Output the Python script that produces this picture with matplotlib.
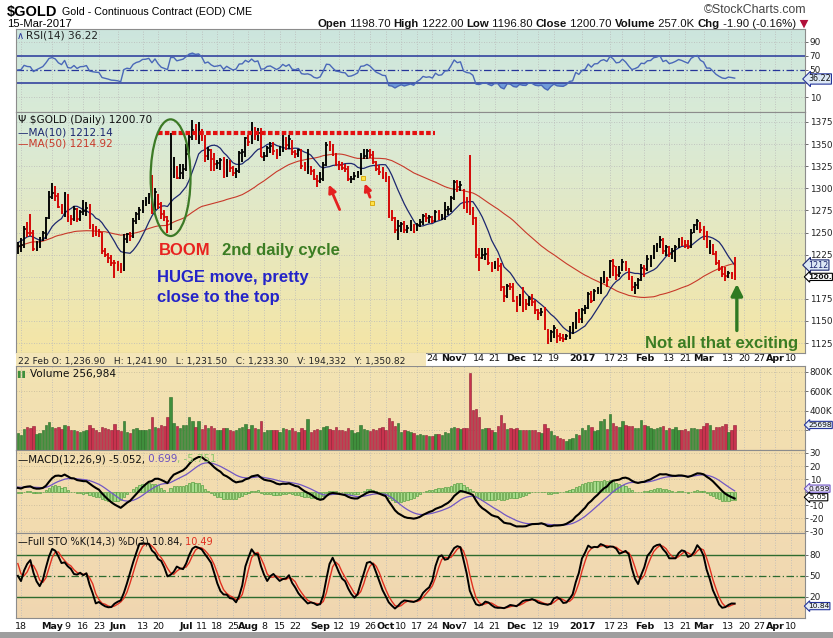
import numpy as np
import pandas as pd
import matplotlib
matplotlib.use("Agg")
import matplotlib.pyplot as plt
from matplotlib.patches import Ellipse, Rectangle
from matplotlib import font_manager

# ------------------------------------------------------------------ data
holidays = ['2016-05-30', '2016-07-04', '2016-09-05', '2016-11-24',
            '2016-12-26', '2017-01-02', '2017-01-16', '2017-02-20']
start_date, last_date, axis_end = '2016-04-15', '2017-03-15', '2017-04-13'

# closes before the visible window (needed for MA50 / RSI / MACD / STO warm-up)
warm_close = [1106, 1098, 1097, 1107, 1121, 1126, 1115, 1118,
              1128, 1128, 1141, 1157, 1158, 1198, 1196, 1194, 1247, 1239, 1208, 1210,
              1226, 1230, 1210, 1222, 1239, 1239, 1221, 1234,
              1230, 1241, 1263, 1270, 1263, 1262, 1257, 1271, 1259, 1245, 1232,
              1264, 1257, 1254, 1245, 1249, 1224, 1221, 1219, 1237, 1226, 1234,
              1222, 1218, 1230, 1226, 1240, 1243, 1257, 1261, 1247, 1228]
warm_high = [1268, 1260, 1256, 1251, 1248, 1226, 1225, 1240, 1241, 1239,
             1236, 1224, 1233, 1236, 1244, 1250, 1260, 1264, 1262, 1249]
warm_low = [1248, 1250, 1243, 1240, 1222, 1212, 1208, 1216, 1222, 1225,
            1220, 1211, 1216, 1219, 1224, 1232, 1240, 1252, 1240, 1225]

close = [
    1235, 1236, 1254, 1250, 1249, 1231, 1238, 1244, 1250, 1266, 1290,
    1295, 1291, 1279, 1273, 1294, 1267, 1265, 1277, 1265, 1273, 1274, 1278, 1257, 1254, 1252,
    1251, 1229, 1225, 1221, 1216, 1215,
    1213, 1209, 1243, 1248, 1246, 1263, 1271, 1275, 1285, 1286, 1290, 1279, 1296, 1282, 1271,
    1267, 1263, 1322, 1324, 1312, 1317, 1322,
    1339, 1358, 1366, 1362, 1366, 1357, 1337, 1343, 1333, 1327, 1329, 1332, 1318, 1330, 1323,
    1317, 1320, 1340, 1341, 1357,
    1352, 1367, 1359, 1363, 1335, 1336, 1346, 1348, 1342, 1336, 1342, 1355, 1349, 1356, 1341,
    1339, 1343, 1325, 1323, 1324, 1320, 1311, 1308,
    1311, 1326, 1349, 1348, 1338, 1328, 1326, 1323, 1322, 1310, 1311, 1314, 1318, 1336, 1337,
    1342, 1338, 1330, 1322, 1318, 1313,
    1312, 1269, 1266, 1253, 1257, 1260, 1253, 1255, 1257, 1251, 1258, 1262, 1269, 1266, 1267,
    1263, 1273, 1267, 1268, 1276, 1277,
    1289, 1307, 1301, 1304, 1280, 1275, 1273.5, 1266, 1224, 1221, 1224, 1226, 1216, 1208, 1213,
    1212, 1188, 1178, 1190, 1188, 1173,
    1169, 1175, 1170, 1169, 1175, 1171, 1162, 1159, 1160, 1142, 1130, 1137, 1142, 1133, 1131,
    1130, 1133, 1139, 1140, 1158, 1152,
    1162, 1165, 1181, 1173, 1184, 1185, 1196, 1200, 1196, 1218, 1212, 1202, 1204, 1217, 1210,
    1199, 1188, 1191, 1196, 1210,
    1209, 1220, 1221, 1233, 1236, 1242, 1229, 1234, 1226, 1229, 1234, 1241, 1239, 1236, 1233.3,
    1250, 1258, 1263, 1253,
    1249, 1234, 1234, 1226, 1216, 1209, 1203, 1201, 1204, 1202.6, 1200.7]
high = [
    1239, 1244, 1257, 1262, 1271, 1253, 1240, 1245, 1252, 1268, 1297,
    1306, 1303, 1295, 1282, 1296, 1294, 1270, 1280, 1278, 1276, 1287, 1285, 1282, 1260, 1257,
    1254, 1251, 1232, 1227, 1225, 1219,
    1218, 1215, 1248, 1250, 1251, 1266, 1273, 1279, 1287, 1290, 1295, 1315, 1300, 1294, 1285,
    1275, 1269, 1362, 1335, 1325, 1327, 1328,
    1350, 1360, 1377, 1373, 1375, 1367, 1360, 1347, 1345, 1340, 1332, 1334, 1335, 1333, 1332,
    1325, 1323, 1342, 1345, 1358,
    1360, 1375, 1369, 1368, 1368, 1341, 1348, 1352, 1352, 1345, 1348, 1360, 1358, 1360, 1355,
    1343, 1345, 1345, 1330, 1345, 1325, 1322, 1315,
    1318, 1330, 1352, 1353, 1350, 1340, 1331, 1330, 1327, 1325, 1314, 1318, 1320, 1340, 1344,
    1345, 1345, 1342, 1331, 1326, 1324,
    1318, 1314, 1276, 1268, 1264, 1262, 1263, 1259, 1264, 1260, 1261, 1265, 1271, 1272, 1270,
    1269, 1275, 1276, 1271, 1285, 1280,
    1291, 1309, 1309, 1308, 1299, 1290, 1338, 1279, 1268, 1232, 1232, 1233, 1232, 1217, 1218,
    1221, 1215, 1190, 1192, 1193, 1193,
    1178, 1180, 1188, 1175, 1178, 1180, 1174, 1164, 1165, 1166, 1141, 1140, 1145, 1141, 1136,
    1135, 1135, 1144, 1149, 1160, 1163,
    1165, 1168, 1183, 1184, 1186, 1188, 1200, 1207, 1200, 1219, 1220, 1212, 1212, 1220, 1218,
    1210, 1201, 1194, 1198, 1214,
    1213, 1225, 1224, 1236, 1238, 1246, 1244, 1236, 1235, 1232, 1236, 1244, 1245, 1242, 1241.9,
    1254, 1260, 1265, 1262,
    1257, 1252, 1241, 1237, 1229, 1219, 1212, 1211, 1206, 1205, 1222]
low = [
    1226, 1228, 1232, 1245, 1246, 1229, 1229, 1233, 1240, 1243, 1265,
    1288, 1286, 1278, 1271, 1268, 1262, 1259, 1263, 1262, 1263, 1270, 1269, 1254, 1245, 1246,
    1245, 1226, 1222, 1215, 1212, 1199,
    1206, 1204, 1207, 1238, 1240, 1244, 1260, 1264, 1272, 1280, 1282, 1271, 1276, 1277, 1265,
    1263, 1250, 1253, 1312, 1310, 1311, 1311,
    1320, 1339, 1355, 1355, 1350, 1353, 1330, 1332, 1320, 1320, 1322, 1321, 1312, 1313, 1318,
    1314, 1312, 1317, 1330, 1335,
    1348, 1350, 1355, 1354, 1335, 1331, 1335, 1340, 1338, 1333, 1336, 1341, 1343, 1345, 1338,
    1334, 1335, 1322, 1320, 1316, 1315, 1309, 1302,
    1306, 1308, 1325, 1342, 1336, 1325, 1321, 1321, 1318, 1308, 1306, 1309, 1312, 1315, 1333,
    1333, 1334, 1328, 1320, 1315, 1311,
    1307, 1266, 1263, 1250, 1241, 1251, 1250, 1250, 1252, 1249, 1252, 1256, 1259, 1262, 1261,
    1261, 1262, 1264, 1264, 1264, 1270,
    1273, 1287, 1296, 1297, 1277, 1272, 1270, 1258, 1221, 1206, 1220, 1219, 1213, 1205, 1209,
    1207, 1184, 1171, 1176, 1185, 1171,
    1160, 1167, 1160, 1162, 1167, 1167, 1158, 1151, 1155, 1140, 1124, 1126, 1131, 1125, 1127,
    1126, 1128, 1130, 1135, 1141, 1148,
    1148, 1158, 1163, 1170, 1172, 1180, 1180, 1193, 1188, 1198, 1201, 1196, 1200, 1206, 1207,
    1196, 1184, 1180, 1186, 1195,
    1200, 1207, 1211, 1220, 1228, 1232, 1226, 1223, 1222, 1220, 1217, 1232, 1235, 1233, 1231.5,
    1233, 1249, 1253, 1250,
    1242, 1232, 1226, 1224, 1213, 1207, 1200, 1195, 1199, 1197, 1196.8]
volume_k = [
    170, 150, 220, 240, 230, 250, 160, 170, 200, 260, 290,
    240, 230, 240, 220, 260, 250, 210, 200, 190, 180, 190, 210, 260, 230, 200,
    180, 240, 230, 220, 210, 270,
    200, 190, 300, 180, 170, 220, 230, 200, 210, 200, 220, 340, 240, 230, 260,
    250, 340, 540, 280, 250, 230, 260,
    260, 340, 300, 240, 300, 220, 260, 230, 250, 230, 200, 210, 230, 230, 200,
    190, 200, 230, 240, 270,
    220, 260, 230, 220, 300, 180, 200, 200, 210, 200, 180, 230, 220, 210, 230,
    190, 180, 230, 200, 320, 180, 200, 220,
    210, 240, 250, 220, 210, 240, 210, 200, 190, 230, 200, 170, 180, 260, 220,
    210, 190, 220, 210, 230, 240,
    210, 330, 300, 250, 275, 180, 200, 190, 180, 170, 150, 160, 150, 150, 140,
    140, 160, 160, 150, 180, 170,
    230, 240, 230, 220, 230, 230, 790, 410, 420, 340, 220, 230, 230, 210, 180,
    250, 360, 280, 220, 230, 220,
    230, 200, 210, 200, 210, 200, 210, 180, 170, 270, 230, 190, 150, 140, 120,
    110, 90, 110, 120, 160, 150,
    230, 200, 260, 240, 190, 210, 300, 320, 220, 370, 280, 250, 240, 300, 260,
    250, 250, 230, 230, 310,
    260, 250, 230, 220, 230, 240, 250, 210, 230, 220, 240, 210, 200, 220, 194.3,
    230, 230, 220, 220,
    250, 280, 260, 200, 240, 240, 250, 270, 180, 200, 257.0]

tick_dates = ['2016-04-18', '2016-05-02', '2016-05-09', '2016-05-16', '2016-05-23',
              '2016-06-01', '2016-06-13', '2016-06-20', '2016-07-01', '2016-07-11',
              '2016-07-18', '2016-07-25', '2016-08-01', '2016-08-08', '2016-08-15',
              '2016-08-22', '2016-09-01', '2016-09-12', '2016-09-19', '2016-09-26',
              '2016-10-03', '2016-10-10', '2016-10-17', '2016-10-24', '2016-11-01',
              '2016-11-07', '2016-11-14', '2016-11-21', '2016-12-01', '2016-12-12',
              '2016-12-19', '2017-01-03', '2017-01-17', '2017-01-23', '2017-02-01',
              '2017-02-13', '2017-02-21', '2017-03-01', '2017-03-13', '2017-03-20',
              '2017-03-27', '2017-04-03', '2017-04-10']
tick_labels = ['18', 'May', '9', '16', '23', 'Jun', '13', '20', 'Jul', '11', '18', '25',
               'Aug', '8', '15', '22', 'Sep', '12', '19', '26', 'Oct', '10', '17', '24',
               'Nov', '7', '14', '21', 'Dec', '12', '19', '2017', '17', '23', 'Feb', '13',
               '21', 'Mar', '13', '20', '27', 'Apr', '10']

price_ticks = [1125, 1150, 1175, 1200, 1225, 1250, 1275, 1300, 1325, 1350, 1375]
price_tick_labels = ['1125', '1150', '1175', '', '1225', '1250', '1275', '1300', '1325',
                     '1350', '1375']
rsi_ticks = [10, 30, 50, 70, 90]
rsi_tick_labels = ['10', '', '50', '70', '90']
vol_ticks = [200, 400, 600, 800]
vol_tick_labels = ['', '400K', '600K', '800K']
macd_ticks = [-30, -20, -10, 0, 10, 20, 30]
macd_tick_labels = ['-30', '-20', '-10', '', '10', '20', '30']
sto_ticks = [20, 50, 80]

# ------------------------------------------------------------------ fonts
names = {f.name for f in font_manager.fontManager.ttflist}
NARROW = 'Liberation Sans Narrow' if 'Liberation Sans Narrow' in names else 'Liberation Sans'
NSCALE = 1.0 if NARROW == 'Liberation Sans Narrow' else 0.84
plt.rcParams['font.family'] = ['DejaVu Sans']
plt.rcParams['axes.unicode_minus'] = False

# ------------------------------------------------------------------ indicators
n = len(close)
assert len(high) == n and len(low) == n and len(volume_k) == n
dates = pd.bdate_range(start_date, axis_end, freq='C', holidays=holidays)
assert dates[n - 1] == pd.Timestamp(last_date), (dates[n - 1], n)
pos = {d.strftime('%Y-%m-%d'): i for i, d in enumerate(dates)}
tick_x = [pos[d] for d in tick_dates]
x = np.arange(n)

C = np.array(close, float)
Hh = np.array(high, float)
L = np.array(low, float)
V = np.array(volume_k, float)
nw = len(warm_close)
s = pd.Series(np.array(warm_close + close, float))
ma10 = s.rolling(10).mean().values[nw:]
ma50 = s.rolling(50).mean().values[nw:]
dlt = s.diff()
gain = dlt.clip(lower=0)
loss = -dlt.clip(upper=0)
ag = gain.ewm(alpha=1 / 14, adjust=False).mean()
al = loss.ewm(alpha=1 / 14, adjust=False).mean()
rsi = (100 - 100 / (1 + ag / al)).values[nw:]
ema12 = s.ewm(span=12, adjust=False).mean()
ema26 = s.ewm(span=26, adjust=False).mean()
macd_s = ema12 - ema26
sig_s = macd_s.ewm(span=9, adjust=False).mean()
macd = macd_s.values[nw:]
sig = sig_s.values[nw:]
hist = macd - sig
nh = len(warm_high)
hh = pd.Series(np.array(warm_high + high, float))
ll = pd.Series(np.array(warm_low + low, float))
cc = pd.Series(np.array(warm_close[-nh:] + close, float))
fast = 100 * (cc - ll.rolling(14).min()) / (hh.rolling(14).max() - ll.rolling(14).min())
k_full = fast.rolling(3).mean()
d_full = k_full.rolling(3).mean()
sto_k = k_full.values[nh:]
sto_d = d_full.values[nh:]

prev = np.concatenate([[warm_close[-1]], C[:-1]])
up = C >= prev

# ------------------------------------------------------------------ figure
W, Hpx = 833, 638
fig = plt.figure(figsize=(W / 100, Hpx / 100), dpi=100)
fig.patch.set_facecolor('white')


def fx(px):
    return px / W


def fy(py):
    return 1 - py / Hpx


def rect(y0, y1, x0=16, x1=805):
    return [fx(x0), fy(y1), (x1 - x0) / W, (y1 - y0) / Hpx]


X0 = -0.6
X1 = (805 - 17) / 3.12


def make_panel(r, top_col, bot_col, ylim):
    ax = fig.add_axes(r)
    ax.set_facecolor('none')
    g = np.linspace(0, 1, 64)
    img = np.zeros((64, 1, 3))
    for c in range(3):
        img[:, 0, c] = top_col[c] + (bot_col[c] - top_col[c]) * g
    ax.imshow(img, aspect='auto', extent=[0, 1, 0, 1], transform=ax.transAxes,
              zorder=-5, interpolation='bilinear', origin='upper')
    for sp in ax.spines.values():
        sp.set_color('#8c8c8c')
        sp.set_linewidth(0.8)
    ax.set_xticks(tick_x)
    ax.set_xticklabels([])
    ax.tick_params(axis='x', length=0)
    ax.yaxis.tick_right()
    ax.tick_params(axis='y', direction='out', length=2.5, width=0.6, colors='#555555',
                   labelsize=6.4, pad=0.8, labelcolor='#222222')
    for t in tick_x:
        ax.axvline(t, color='#b9b9b9', lw=0.6, ls=(0, (1, 2)), zorder=-1)
    ax.set_xlim(X0, X1)
    ax.set_ylim(*ylim)
    return ax


ax_rsi = make_panel(rect(29, 112), (0.80, 0.90, 0.87), (0.85, 0.92, 0.84), (-11.8, 108.9))
ax_main = make_panel(rect(112, 353), (0.84, 0.92, 0.86), (0.96, 0.90, 0.65), (1113.7, 1386.3))
ax_vol = make_panel(rect(366, 450), (0.95, 0.89, 0.70), (0.95, 0.87, 0.69), (0, 861.5))
ax_macd = make_panel(rect(450, 533), (0.95, 0.87, 0.69), (0.95, 0.86, 0.69), (-31.5, 32.3))
ax_sto = make_panel(rect(533, 618), (0.95, 0.86, 0.70), (0.94, 0.84, 0.69), (-10, 111.4))

# ---- RSI
ax_rsi.set_yticks(rsi_ticks)
ax_rsi.set_yticklabels(rsi_tick_labels)
for v in (90, 10):
    ax_rsi.axhline(v, color='#b9b9b9', lw=0.6, ls=(0, (1, 2)), zorder=-1)
ax_rsi.axhline(70, color='#26359a', lw=1.1)
ax_rsi.axhline(30, color='#26359a', lw=1.1)
ax_rsi.axhline(50, color='#26359a', lw=0.9, ls=(0, (6, 2, 1, 2)))
ax_rsi.fill_between(x, rsi, 30, where=rsi < 30, interpolate=True, color='#6f9bd8', lw=0)
ax_rsi.fill_between(x, rsi, 70, where=rsi > 70, interpolate=True, color='#6f9bd8', lw=0)
ax_rsi.plot(x, rsi, color='#4a68b8', lw=1.0)

# ---- main price
ax_main.set_yticks(price_ticks)
ax_main.set_yticklabels(price_tick_labels)
for v in price_ticks:
    ax_main.axhline(v, color='#b9b9b9', lw=0.6, ls=(0, (1, 2)), zorder=-1)
bar_col = np.where(up, '#000000', '#d40000')
ax_main.vlines(x, L, Hh, colors=bar_col, lw=1.35, zorder=3)
ax_main.hlines(C, x, x + 0.55, colors=bar_col, lw=1.1, zorder=3)
ax_main.plot(x, ma50, color='#c8392a', lw=0.8, zorder=2)
ax_main.plot(x, ma10, color='#1d2870', lw=0.9, zorder=2)
# the left part of this date strip is covered by the hover info line
strip_labels = [lab if t >= pos['2016-10-24'] else '' for lab, t in zip(tick_labels, tick_x)]
ax_main.set_xticklabels(strip_labels)
ax_main.tick_params(axis='x', pad=1.0, labelsize=6.8, labelcolor='#111111')

# annotations on the price panel
ax_main.hlines(1362.6, 45, 134, colors='#e41010', lw=3.0, linestyles=(0, (1.1, 0.55)), zorder=4)
ax_main.add_patch(Ellipse((49, 1312), 12.8, 132, fill=False, ec='#3c7a26', lw=1.6, zorder=4))
ax_main.annotate('', xy=(99.4, 1307), xytext=(103.6, 1273),
                 arrowprops=dict(arrowstyle='-|>', color='#e42020', lw=2.0, mutation_scale=11),
                 zorder=5)
ax_main.annotate('', xy=(111.0, 1308.5), xytext=(113.3, 1287),
                 arrowprops=dict(arrowstyle='-|>', color='#e42020', lw=2.0, mutation_scale=10),
                 zorder=5)
ax_main.plot([110.9, 113.5], [1311.5, 1283.4], 's', ms=3.3, mfc='#ffe347', mec='#d8a400',
             mew=0.6, zorder=6)
ax_main.annotate('', xy=(230.7, 1195), xytext=(230.7, 1136),
                 arrowprops=dict(arrowstyle='-|>', color='#2f7a22', lw=2.4, mutation_scale=17),
                 zorder=5)

# ---- volume
ax_vol.set_yticks(vol_ticks)
ax_vol.set_yticklabels(vol_tick_labels)
for v in vol_ticks:
    ax_vol.axhline(v, color='#c4b89a', lw=0.6, ls=(0, (1, 2)), zorder=-1)
vcol = np.where(up, '#3f8f3c', '#c8324e')
vedge = np.where(up, '#2b6a28', '#8e1f35')
ax_vol.bar(x, V, width=0.78, color=vcol, edgecolor=vedge, lw=0.4, zorder=3)

# ---- MACD
ax_macd.set_yticks(macd_ticks)
ax_macd.set_yticklabels(macd_tick_labels)
for v in macd_ticks:
    ax_macd.axhline(v, color='#c4b89a', lw=0.6, ls=(0, (1, 2)), zorder=-1)
ax_macd.bar(x, hist, width=0.72, color='#a6da8a', edgecolor='#4b9a38', lw=0.45, zorder=2)
ax_macd.plot(x, sig, color='#7257c4', lw=0.9, zorder=3)
ax_macd.plot(x, macd, color='#000000', lw=1.5, zorder=4)

# ---- STO
ax_sto.set_yticks(sto_ticks)
ax_sto.axhline(80, color='#2e6b2e', lw=1.0)
ax_sto.axhline(20, color='#2e6b2e', lw=1.0)
ax_sto.axhline(50, color='#2e6b2e', lw=0.9, ls=(0, (6, 2, 1, 2)))
ax_sto.plot(x, sto_d, color='#e03020', lw=1.0, zorder=3)
ax_sto.plot(x, sto_k, color='#000000', lw=1.4, zorder=4)
ax_sto.set_xticklabels(tick_labels)
ax_sto.tick_params(axis='x', pad=3.0, labelsize=6.8, labelcolor='#111111')

for ax in (ax_main, ax_sto):
    for lab in ax.get_xticklabels():
        if lab.get_text().isalpha() or lab.get_text() == '2017':
            lab.set_fontweight('bold')


# ---- value tags on the right
def tag(ax, yv, txt, ec, tc='#111111', fc='white', bold=False, size=5.8):
    ax.annotate(txt, xy=(1.0, yv), xycoords=('axes fraction', 'data'), xytext=(2.2, 0),
                textcoords='offset points', va='center', ha='left', fontsize=size, color=tc,
                fontweight='bold' if bold else 'normal', annotation_clip=False, zorder=10,
                bbox=dict(boxstyle='larrow,pad=0.08', fc=fc, ec=ec, lw=0.8))


tag(ax_rsi, 36.22, '36.22', '#26359a', fc='#dce8f5')
tag(ax_main, 1213.2, '1212', '#1d2870', tc='#1d2870', fc='#dce8f5')
tag(ax_main, 1199.8, '1200.', '#000000', bold=True, size=5.4)
tag(ax_vol, 256.984, '25698', '#26359a', fc='#e4ecf5', size=5.4)
tag(ax_macd, 2.6, '0.699', '#7257c4', fc='#e8e4f8', size=5.4)
tag(ax_macd, -4.0, '-5.05', '#000000', size=5.4)
tag(ax_sto, 7.0, '10.84', '#26359a', fc='#e4ecf5', size=5.4)

# ------------------------------------------------------------------ texts
renderer = fig.canvas.get_renderer()


def seq_text(x_px, y_px, segs, ha='left', size=7.6, family=None):
    arts = []
    widths = []
    for txt, col, wt, fam in segs:
        t = fig.text(0, fy(y_px), txt, color=col, fontweight=wt, fontsize=size,
                     family=fam if fam else (family or ['DejaVu Sans']), va='baseline',
                     ha='left', zorder=8)
        arts.append(t)
        widths.append(t.get_window_extent(renderer).width)
    total = sum(widths)
    cur = x_px if ha == 'left' else x_px - total
    for t, w in zip(arts, widths):
        t.set_x(fx(cur))
        cur += w


# header
fig.text(fx(7), fy(16), '$GOLD', fontsize=12.5 * NSCALE, fontweight='bold', family=[NARROW],
         va='baseline')
fig.text(fx(62), fy(15), 'Gold - Continuous Contract (EOD) CME', fontsize=9.1 * NSCALE,
         family=[NARROW], va='baseline')
fig.text(fx(806), fy(13), '\u00a9StockCharts.com', fontsize=10.5 * NSCALE, family=[NARROW],
         va='baseline', ha='right', color='#444444')
fig.text(fx(7), fy(27), '15-Mar-2017', fontsize=9.7 * NSCALE, family=[NARROW], va='baseline')
B, N_ = 'bold', 'normal'
seq_text(808, 27, [('Open', '#111111', B, None), (' 1198.70 ', '#111111', N_, None),
                   ('High', '#111111', B, None), (' 1222.00 ', '#111111', N_, None),
                   ('Low', '#111111', B, None), (' 1196.80 ', '#111111', N_, None),
                   ('Close', '#111111', B, None), (' 1200.70 ', '#111111', N_, None),
                   ('Volume', '#111111', B, None), (' 257.0K ', '#111111', N_, None),
                   ('Chg', '#111111', B, None), (' -1.90 (-0.16%)', '#111111', N_, None),
                   (' \u25bc', '#b0103a', N_, ['DejaVu Sans'])],
         ha='right', size=9.8 * NSCALE, family=[NARROW])

# panel legends
fig.text(fx(26), fy(39), 'RSI(14) 36.22', fontsize=7.6, va='baseline', color='#222222')
fig.text(fx(17), fy(39), '\u2227', fontsize=7, va='baseline', color='#26359a')
fig.text(fx(18), fy(123), '\u03a8 $GOLD (Daily) 1200.70', fontsize=7.6, va='baseline',
         color='#111111')
fig.text(fx(18), fy(135), '\u2014MA(10) 1212.14', fontsize=7.6, va='baseline', color='#1d2870')
fig.text(fx(18), fy(147), '\u2014MA(50) 1214.92', fontsize=7.6, va='baseline', color='#c8392a')
fig.text(fx(17.5), fy(376), '\u258c\u258c', fontsize=5, va='baseline', color='#3f8f3c')
fig.text(fx(30), fy(377), 'Volume 256,984', fontsize=7.6, va='baseline', color='#111111')
seq_text(18, 462, [('\u2014MACD(12,26,9) -5.052,', '#111111', N_, None),
                   (' 0.699', '#6a4fc0', N_, None), (', -5.751', '#8cc76c', N_, None)],
         size=7.4)
seq_text(18, 545, [('\u2014Full STO %K(14,3) %D(3) 10.84,', '#111111', N_, None),
                   (' 10.49', '#e03020', N_, None)], size=7.0)

# info strip overlay between price and volume panels
fig.patches.append(Rectangle((fx(16), fy(366)), (426 - 16) / W, 13 / Hpx,
                             transform=fig.transFigure, facecolor='#f3e5b8', edgecolor='none',
                             zorder=6))
fig.text(fx(18), fy(364), '22 Feb O: 1,236.90   H: 1,241.90   L: 1,231.50   C: 1,233.30   '
         'V: 194,332   Y: 1,350.82', fontsize=6.6, va='baseline', color='#222222', zorder=7)

# chart commentary
LB = ['Liberation Sans', 'DejaVu Sans']
fig.text(fx(159), fy(255), 'BOOM', fontsize=12, fontweight='bold', color='#e8231f', family=LB,
         va='baseline')
fig.text(fx(222), fy(255), '2nd daily cycle', fontsize=12, fontweight='bold', color='#3b7d23',
         family=LB, va='baseline')
fig.text(fx(157), fy(282), 'HUGE move, pretty', fontsize=12, fontweight='bold',
         color='#2424c8', family=LB, va='baseline')
fig.text(fx(157), fy(302), 'close to the top', fontsize=12, fontweight='bold', color='#2424c8',
         family=LB, va='baseline')
fig.text(fx(645), fy(348), 'Not all that exciting', fontsize=12, fontweight='bold',
         color='#3b7d23', family=LB, va='baseline')

# bottom gray bar
fig.patches.append(Rectangle((0, 0), 1, 6 / Hpx, transform=fig.transFigure,
                             facecolor='#9e9e9e', edgecolor='none', zorder=1))

fig.savefig('out.png', dpi=100, facecolor='white')
